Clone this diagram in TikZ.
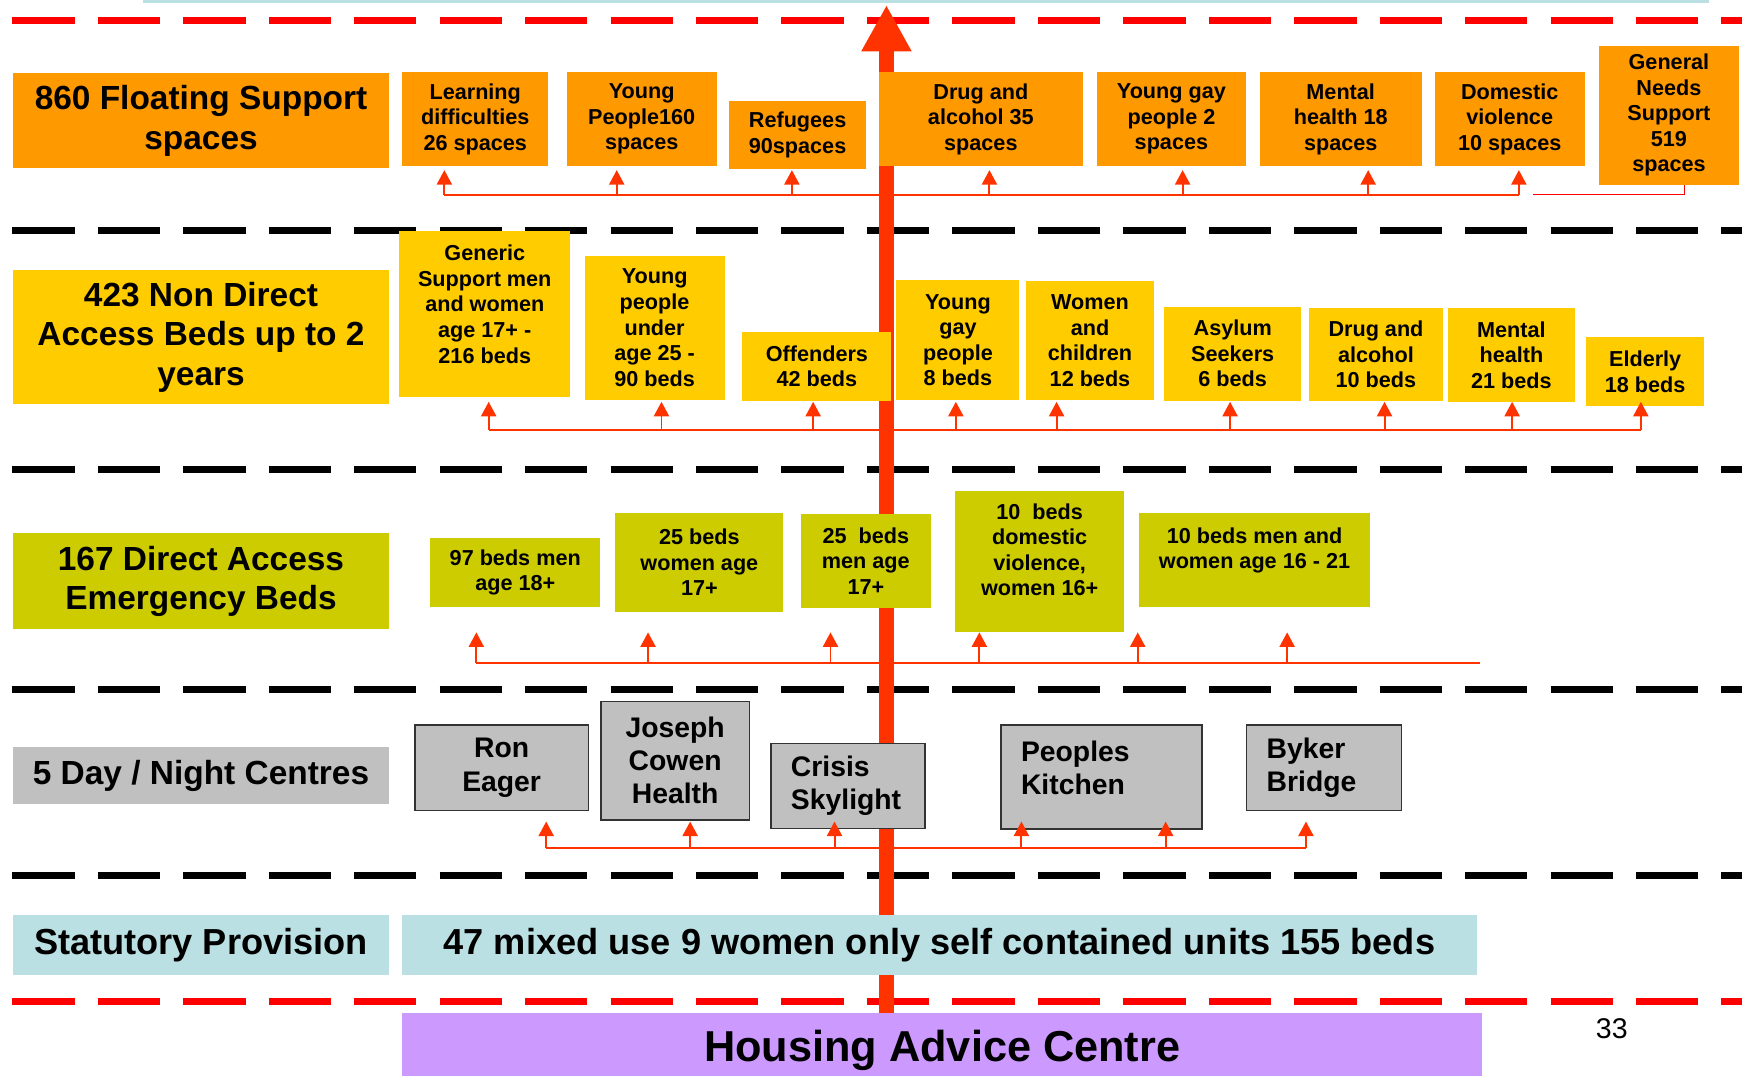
\documentclass[tikz,border=0pt]{standalone}
\usepackage{fontspec}
\setmainfont{Liberation Sans}
\usetikzlibrary{arrows.meta}

\definecolor{floatcol}{RGB}{255,153,0}
\definecolor{nondircol}{RGB}{255,204,0}
\definecolor{dircol}{RGB}{204,204,0}
\definecolor{greycol}{RGB}{192,192,192}
\definecolor{statcol}{RGB}{187,224,227}
\definecolor{advicecol}{RGB}{204,153,255}
\definecolor{shaftcol}{RGB}{255,51,0}
\definecolor{dashcol}{RGB}{255,0,0}

\tikzset{
  wh/.style 2 args={minimum width=#1*0.2mm, minimum height=#2*0.2mm},
  lefty/.style={align=left, text width=#1*0.2mm},
  topset/.style 2 args={text height=#1*0.2mm, text depth=#2*0.2mm}
}

\begin{document}
\begin{tikzpicture}[x=0.2mm, y=-0.2mm,
    tag/.style={anchor=north west, inner sep=0pt, align=center, font=\bfseries\fontsize{17}{20}\selectfont},
    cell/.style={anchor=north west, inner sep=0pt, align=center, font=\bfseries\fontsize{11}{13}\selectfont},
    centre/.style={anchor=north west, inner sep=0pt, align=center, fill=greycol, draw=black!80, line width=0.8pt, font=\bfseries\fontsize{14.4}{16.8}\selectfont},
    divide/.style={line width=1.3mm, dash pattern=on 11.14mm off 4.13mm},
    bus/.style={shaftcol, line width=1pt},
    feed/.style={shaftcol, line width=1pt, -{Triangle[length=2.6mm,width=2.7mm]}}]
  \useasboundingbox (0,0) rectangle (1568,961);

  % dividers
  \fill[statcol] (128,0) rectangle (1527,3);
  \draw[divide, dashcol] (11,18) -- (1556,18);
  \foreach \y in {206,419.5,616,782}
    \draw[divide, black] (11,\y) -- (1556,\y);
  \draw[divide, dashcol] (11,894.5) -- (1556,894.5);

  % main arrow
  \node[anchor=north west, inner sep=0pt, wh={965}{66}, fill=advicecol, font=\bfseries\fontsize{22}{26}\selectfont] (advice) at (359,905) {Housing Advice Centre};
  \coordinate (apex) at (792,4.5);
  \draw[shaftcol, line width=2.7mm, -{Triangle[length=8.3mm,width=8.4mm]}] (advice.north -| apex) -- (apex);

  % left column
  \node[tag, wh={336.5}{85}, fill=floatcol] (floating) at (11,65) {860 Floating Support\\spaces};
  \node[tag, wh={336.5}{120}, fill=nondircol] (nondirect) at (11,241) {423 Non Direct\\Access Beds up to 2\\years};
  \node[tag, wh={336.5}{86}, fill=dircol] (direct) at (11,476) {167 Direct Access\\Emergency Beds};
  \node[tag, wh={336.5}{51}, fill=greycol] (daynight) at (11,667) {5 Day / Night Centres};
  \node[tag, wh={336.5}{53.5}, fill=statcol, font=\bfseries\fontsize{18.4}{22}\selectfont] (statutory) at (11,817.5) {Statutory Provision};

  % floating support
  \node[cell, wh={130.5}{84}, fill=floatcol] (learning) at (359,64) {Learning\\difficulties\\26 spaces};
  \node[cell, wh={134}{84}, fill=floatcol] (youngpeople) at (506,64) {Young\\People160\\spaces};
  \node[cell, wh={122.5}{61}, fill=floatcol] (refugees) at (651,89.5) {Refugees\\90spaces};
  \node[cell, wh={182}{84}, fill=floatcol] (drugs) at (785,64) {Drug and\\alcohol 35\\spaces};
  \node[cell, wh={132.5}{84}, fill=floatcol] (gay) at (980,64) {Young gay\\people 2\\spaces};
  \node[cell, wh={145}{84}, fill=floatcol] (mental) at (1125,64) {Mental\\health 18\\spaces};
  \node[cell, wh={134}{84}, fill=floatcol] (domestic) at (1281.5,64) {Domestic\\violence\\10 spaces};
  \node[cell, wh={124.5}{124}, fill=floatcol] (general) at (1428.5,40.5) {General\\Needs\\Support\\519\\spaces};

  % non direct access
  \node[cell, wh={152.5}{148.5}, topset={118}{30.5}, fill=nondircol] (generic) at (356.5,206) {Generic\\Support men\\and women\\age 17+ -\\216 beds};
  \node[cell, wh={125}{129}, fill=nondircol] (under25) at (522,228) {Young\\people\\under\\age 25 -\\90 beds};
  \node[cell, wh={133}{62}, fill=nondircol] (offenders) at (663,296) {Offenders\\42 beds};
  \node[cell, wh={110}{107}, fill=nondircol] (gaybeds) at (800.5,250) {Young\\gay\\people\\8 beds};
  \node[cell, wh={115}{106}, fill=nondircol] (women) at (916,251) {Women\\and\\children\\12 beds};
  \node[cell, wh={122}{84}, fill=nondircol] (asylum) at (1040,273.5) {Asylum\\Seekers\\6 beds};
  \node[cell, wh={120}{83.5}, fill=nondircol] (drugbeds) at (1169,274.5) {Drug and\\alcohol\\10 beds};
  \node[cell, wh={114}{84}, fill=nondircol] (mentalbeds) at (1293,275) {Mental\\health\\21 beds};
  \node[cell, wh={105}{61.5}, fill=nondircol] (elderly) at (1417,301) {Elderly\\18 beds};

  % direct access
  \node[cell, wh={152}{62}, fill=dircol] (men18) at (384,480) {97 beds men\\age 18+};
  \node[cell, wh={150}{88}, fill=dircol] (women17) at (549.5,458) {25 beds\\women age\\17+};
  \node[cell, wh={115.5}{84}, fill=dircol] (men17) at (715.5,459) {25~ beds\\men age\\17+};
  \node[cell, wh={151}{126}, topset={94}{32}, fill=dircol] (domviol) at (853,438) {10~ beds\\domestic\\violence,\\women 16+};
  \node[cell, wh={207}{84}, topset={50}{34}, fill=dircol] (young1621) at (1017,458) {10 beds men and\\women age 16 - 21};

  % day and night centres
  \node[centre, wh={155}{76.5}] (ron) at (370,647) {Ron\\Eager};
  \node[centre, wh={133}{106}] (joseph) at (536,626) {Joseph\\Cowen\\Health};
  \node[centre, wh={137.5}{76}, lefty=101.5] (crisis) at (688,663.5) {Crisis\\Skylight};
  \node[centre, wh={179.5}{93}, lefty=143.5, topset={33}{60}] (peoples) at (893.5,647) {Peoples\\Kitchen};
  \node[centre, wh={138.5}{76.5}, lefty=102.5] (byker) at (1113,647) {Byker\\Bridge};

  % statutory
  \node[tag, wh={960}{53.5}, fill=statcol, font=\bfseries\fontsize{18.4}{22}\selectfont] (units) at (359,817.5) {47 mixed use 9 women only self contained units 155 beds};

  % feeds
  \coordinate (bus1) at (397,174);
  \coordinate (bus1end) at (1357,174);
  \coordinate (tip1) at (0,152);
  \draw[bus] (bus1) -- (bus1end);
  \foreach \x in {397,551,707.5,884,1056.6,1222.4,1357}
    \draw[feed] (\x,0 |- bus1) -- (\x,0 |- tip1);
  \coordinate (stub) at (1370,174);
  \draw[dashcol, line width=0.6pt] (stub) -| ([xshift=2.77mm]general.south);

  \coordinate (bus2) at (436.6,384);
  \coordinate (bus2end) at (1466,384);
  \coordinate (tip2) at (0,359);
  \draw[bus] (bus2) -- (bus2end);
  \foreach \x in {436.6,591,726.5,854,944,1099,1237,1351,1466}
    \draw[feed] (\x,0 |- bus2) -- (\x,0 |- tip2);

  \coordinate (bus3) at (425.6,592);
  \coordinate (bus3end) at (1322.5,592);
  \coordinate (tip3) at (0,565);
  \draw[bus] (bus3) -- (bus3end);
  \foreach \x in {425.6,579,742,875,1016.5,1150}
    \draw[feed] (\x,0 |- bus3) -- (\x,0 |- tip3);

  \coordinate (bus4) at (488,758);
  \coordinate (bus4end) at (1166.8,758);
  \coordinate (tip4) at (0,734);
  \draw[bus] (bus4) -- (bus4end);
  \foreach \x in {488,616.6,745.6,912.6,1041.5,1166.8}
    \draw[feed] (\x,0 |- bus4) -- (\x,0 |- tip4);

  \node[inner sep=0pt, font=\fontsize{14.5}{17}\selectfont] (page) at (1440,919) {33};
\end{tikzpicture}
\end{document}
